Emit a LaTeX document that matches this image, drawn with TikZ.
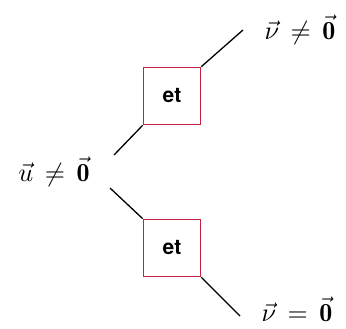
\documentclass[tikz,border=0pt]{standalone}
\usepackage{amsmath,amssymb}
\usepackage{fontspec}
\usepackage{tikz}
\usetikzlibrary{positioning}
\newfontfamily\etfont{TeX Gyre Heros}
\definecolor{boxred}{RGB}{195,35,60}

\begin{document}
\begin{tikzpicture}[x=1pt,y=-1pt,line width=1.3pt,
  etbox/.style={draw=boxred,line width=1.6pt,minimum size=57pt,inner sep=0pt},
  ettext/.style={inner sep=0pt,scale=2.1,font=\etfont\bfseries},
  lab/.style={inner sep=0pt,scale=2.6}]
  \useasboundingbox (0,0) rectangle (346,329);
  \node[etbox] (et1) at (172,96) {};
  \node[ettext] at (et1) {et};
  \node[etbox] (et2) at (172,248) {};
  \node[ettext] at (et2) {et};
  \node[lab] (u) at (54,172) {$\vec{u}\,\neq\,\vec{\mathbf{0}}$};
  \node[lab] (vneq) at (300,30) {$\vec{\nu}\,\neq\,\vec{\mathbf{0}}$};
  \node[lab] (veq) at (297,309) {$\vec{\nu}\,=\,\vec{\mathbf{0}}$};
  \coordinate (a1) at (114,155);
  \coordinate (a2) at (110,188);
  \coordinate (b1) at (243,30);
  \coordinate (b2) at (240,316);
  \draw (a1) -- (et1.south west);
  \draw (et1.north east) -- (b1);
  \draw (a2) -- (et2.north west);
  \draw (et2.south east) -- (b2);
\end{tikzpicture}
\end{document}
